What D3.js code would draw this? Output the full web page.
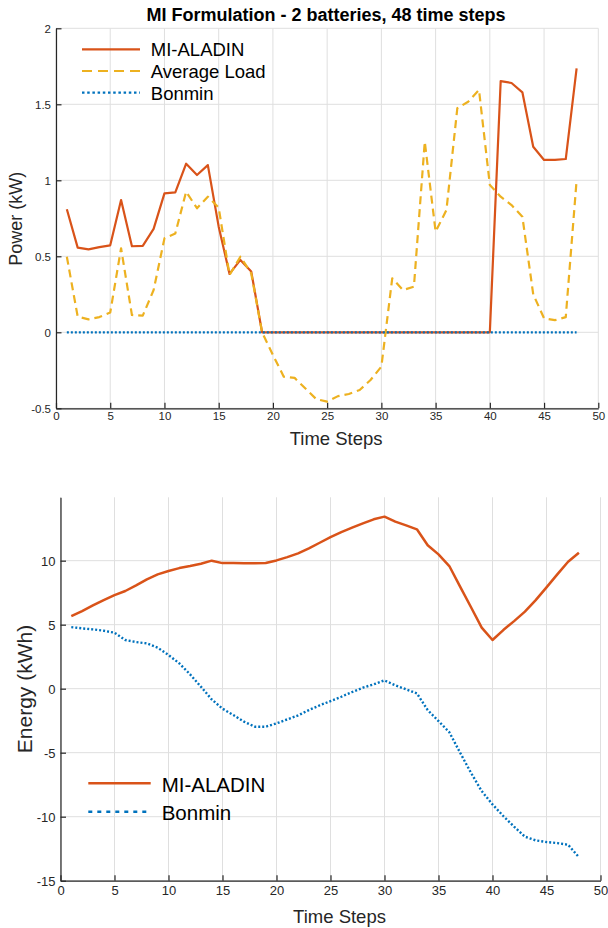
<!doctype html>
<html>
<head>
<meta charset="utf-8">
<script src="https://cdn.jsdelivr.net/npm/d3@7"></script>
<style>
  body { margin: 0; background: #fff; }
  svg { display: block; font-family: "Liberation Sans", Arial, sans-serif; }
</style>
</head>
<body>
<svg id="chart" width="608" height="928"></svg>
<script>
// time steps
const steps = [1,2,3,4,5,6,7,8,9,10,11,12,13,14,15,16,17,18,19,20,21,22,23,24,
               25,26,27,28,29,30,31,32,33,34,35,36,37,38,39,40,41,42,43,44,45,46,47,48];

// power (kW)
const powerAladin = [0.81,0.557,0.546,0.56,0.572,0.87,0.566,0.568,0.68,0.914,0.92,1.109,1.035,1.10,0.695,0.384,0.476,0.40,0,
                     0,0,0,0,0,0,0,0,0,0,0,0,0,0,0,0,0,0,0,0,0,
                     1.653,1.64,1.579,1.221,1.134,1.134,1.14,1.737];
const powerLoad = [0.497,0.103,0.085,0.10,0.13,0.553,0.114,0.11,0.278,0.618,0.65,0.925,0.816,0.892,0.82,0.377,0.497,0.388,0.0,
                   -0.149,-0.292,-0.30,-0.37,-0.44,-0.456,-0.42,-0.406,-0.38,-0.314,-0.226,0.355,0.278,0.30,1.254,0.662,0.805,
                   1.474,1.517,1.594,0.969,0.892,0.837,0.76,0.25,0.092,0.08,0.10,1.00];
const powerBonmin = [0,0,0,0,0,0,0,0,0,0,0,0,0,0,0,0,0,0,0,0,0,0,0,0,
                     0,0,0,0,0,0,0,0,0,0,0,0,0,0,0,0,0,0,0,0,0,0,0,0];

// energy (kWh)
const energyAladin = [5.67,6.06,6.5,6.92,7.31,7.63,8.07,8.54,8.93,9.19,9.42,9.58,9.76,10.0,9.81,9.82,9.8,9.8,9.82,10.02,
                      10.28,10.57,10.96,11.4,11.84,12.23,12.58,12.91,13.23,13.44,13.05,12.76,12.45,11.2,10.49,9.58,7.97,6.38,
                      4.77,3.8,4.58,5.28,6.02,6.92,7.91,8.93,9.92,10.62];
const energyBonmin = [4.81,4.71,4.63,4.53,4.37,3.8,3.64,3.54,3.2,2.63,1.98,1.12,0.16,-0.84,-1.56,-2.06,-2.58,-2.97,-2.97,-2.71,
                      -2.4,-2.09,-1.67,-1.3,-0.97,-0.63,-0.26,0.08,0.34,0.65,0.26,-0.05,-0.37,-1.67,-2.53,-3.4,-5.0,-6.56,
                      -8.0,-9.04,-9.95,-10.78,-11.56,-11.85,-11.98,-12.06,-12.19,-13.16];

const xTicks = [0,5,10,15,20,25,30,35,40,45,50];
const powerTicks = [-0.5,0,0.5,1,1.5,2];
const energyTicks = [-15,-10,-5,0,5,10];

const title = "MI Formulation - 2 batteries, 48 time steps";

const RED = "#D95319", YELLOW = "#EDB120", BLUE = "#0072BD";
const AXIS = "#262626", GRID = "#dfdfdf";

const svg = d3.select("#chart");

// MATLAB-style labels: plain hyphen, no trailing zeros
const fmt = d => String(d);

function panel(opt) {
  const x = d3.scaleLinear().domain([0, 50]).range([opt.left, opt.right]);
  const y = d3.scaleLinear().domain(opt.ydomain).range([opt.bottom, opt.top]);
  const g = svg.append("g");

  // grid
  g.append("g").selectAll("line").data(xTicks).join("line")
      .attr("x1", d => x(d)).attr("x2", d => x(d))
      .attr("y1", opt.top).attr("y2", opt.bottom)
      .attr("stroke", GRID).attr("stroke-width", 1);
  g.append("g").selectAll("line").data(opt.yticks).join("line")
      .attr("x1", opt.left).attr("x2", opt.right)
      .attr("y1", d => y(d)).attr("y2", d => y(d))
      .attr("stroke", GRID).attr("stroke-width", 1);

  // axes (ticks inward)
  const ax = g.append("g").attr("transform", `translate(0,${opt.bottom})`)
      .call(d3.axisBottom(x).tickValues(xTicks).tickFormat(fmt)
        .tickSize(-5.5).tickPadding(opt.xpad).tickSizeOuter(0));
  const ay = g.append("g").attr("transform", `translate(${opt.left},0)`)
      .call(d3.axisLeft(y).tickValues(opt.yticks).tickFormat(fmt)
        .tickSize(-5.5).tickPadding(opt.ypad).tickSizeOuter(0));
  for (const a of [ax, ay]) {
    a.select(".domain").attr("stroke", AXIS).attr("stroke-width", 1.2);
    a.selectAll(".tick line").attr("stroke", AXIS).attr("stroke-width", 1.2);
    a.selectAll(".tick text").attr("fill", AXIS).style("font-size", opt.tickFont + "px")
        .attr("font-family", "'Liberation Sans', Arial, sans-serif");
  }
  ay.selectAll(".tick text").attr("dy", "0.35em");

  // series
  const line = d3.line().x((d, i) => x(steps[i])).y(d => y(d));
  for (const s of opt.series) {
    g.append("path").datum(s.values)
        .attr("fill", "none").attr("stroke", s.color).attr("stroke-width", s.width)
        .attr("stroke-dasharray", s.dash || null)
        .attr("stroke-linejoin", "round")
        .attr("d", line);
  }

  // legend
  opt.series.forEach((s, i) => {
    const ly = opt.legend.y0 + i * opt.legend.dy;
    g.append("line")
        .attr("x1", opt.legend.x0).attr("x2", opt.legend.x1)
        .attr("y1", ly).attr("y2", ly)
        .attr("stroke", s.color).attr("stroke-width", s.width)
        .attr("stroke-dasharray", s.legendDash || null);
    g.append("text")
        .attr("x", opt.legend.tx).attr("y", ly + opt.legend.base)
        .attr("fill", "#000").style("font-size", opt.legend.font + "px")
        .text(s.name);
  });

  // labels
  g.append("text")
      .attr("x", (opt.left + opt.right) / 2 + 9).attr("y", opt.xlabelY)
      .attr("text-anchor", "middle").attr("fill", AXIS)
      .style("font-size", "18.5px").text("Time Steps");
  g.append("text")
      .attr("transform", `translate(${opt.ylabelX},${opt.ylabelMid}) rotate(-90)`)
      .attr("text-anchor", "middle").attr("fill", AXIS)
      .style("font-size", opt.ylabelFont + "px").text(opt.ylabel);

  return g;
}

panel({
  left: 56, right: 598.3, top: 28.3, bottom: 408.3,
  ydomain: [-0.5, 2], yticks: powerTicks,
  tickFont: 11.5, xpad: 4, ypad: 5,
  series: [
    {name: "MI-ALADIN", values: powerAladin, color: RED, width: 2.2},
    {name: "Average Load", values: powerLoad, color: YELLOW, width: 2.2, dash: "8,5", legendDash: "10,6"},
    {name: "Bonmin", values: powerBonmin, color: BLUE, width: 2.2, dash: "2,2", legendDash: "2.5,2.7"}
  ],
  legend: {x0: 82, x1: 140, tx: 150.8, y0: 49.3, dy: 21.7, base: 7, font: 18.5},
  xlabelY: 445, ylabel: "Power (kW)", ylabelX: 21.5, ylabelMid: 218.7, ylabelFont: 18
});

panel({
  left: 60.5, right: 600.5, top: 497.3, bottom: 880.7,
  ydomain: [-15, 14.95], yticks: energyTicks,
  tickFont: 13, xpad: 5, ypad: 5,
  series: [
    {name: "MI-ALADIN", values: energyAladin, color: RED, width: 2.5},
    {name: "Bonmin", values: energyBonmin, color: BLUE, width: 2.4, dash: "2,2", legendDash: "4,5"}
  ],
  legend: {x0: 88.3, x1: 150.7, tx: 161.7, y0: 783.3, dy: 28.4, base: 8.3, font: 20.5},
  xlabelY: 922.7, ylabel: "Energy (kWh)", ylabelX: 31.7, ylabelMid: 689, ylabelFont: 21
});

// title
svg.append("text")
    .attr("x", 326).attr("y", 20.7)
    .attr("text-anchor", "middle").attr("fill", "#000")
    .style("font-size", "18px").style("font-weight", "bold")
    .text(title);
</script>
</body>
</html>
